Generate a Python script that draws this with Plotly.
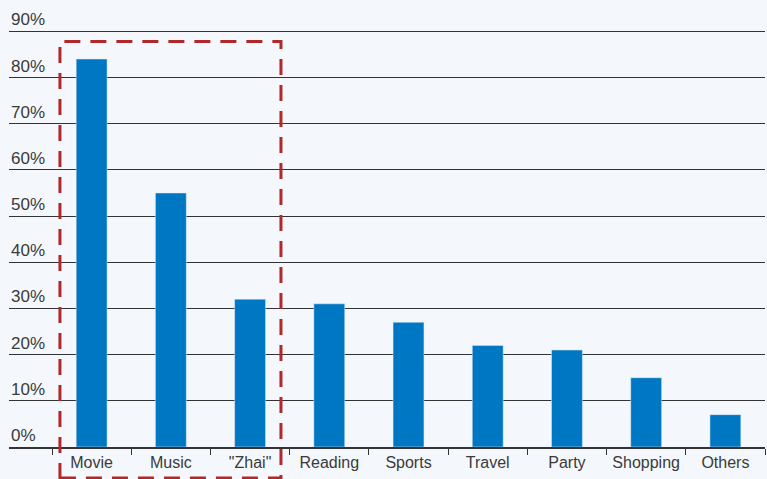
import plotly.graph_objects as go

categories = ["Movie", "Music", "\"Zhai\"", "Reading", "Sports", "Travel", "Party", "Shopping", "Others"]
values = [84, 55, 32, 31, 27, 22, 21, 15, 7]
y_ticks = [0, 10, 20, 30, 40, 50, 60, 70, 80, 90]
y_tick_labels = [f"{v}%" for v in y_ticks]

fig = go.Figure(go.Bar(x=categories, y=values, marker_color="#0077c2", width=0.39))

annotations = [
    dict(xref="paper", yref="y", x=0, y=v, text=t, showarrow=False,
         xanchor="left", yanchor="bottom", yshift=0,
         font=dict(size=17, color="#3a3a3a"))
    for v, t in zip(y_ticks, y_tick_labels)
]

fig.update_layout(
    width=767, height=479,
    margin=dict(l=9, r=2, t=29, b=32),
    paper_bgcolor="#f4f8fc", plot_bgcolor="#f4f8fc",
    showlegend=False,
    font=dict(family="Liberation Sans, Arial, sans-serif", size=16, color="#3a3a3a"),
    xaxis=dict(
        range=[-1.043, 8.5], showgrid=False, showline=True, linecolor="#333", linewidth=2,
        ticks="outside", tickson="boundaries", ticklen=6, tickcolor="#333", tickwidth=1,
        tickfont=dict(size=16, color="#3a3a3a"),
    ),
    yaxis=dict(
        range=[0, 90.5], tickvals=y_ticks, showticklabels=False,
        showgrid=True, gridcolor="#333", gridwidth=1,
        zeroline=False, showline=False,
    ),
    annotations=annotations,
    shapes=[dict(
        type="rect", xref="x", yref="paper", x0=-0.4, x1=2.39, y0=-0.074, y1=0.97,
        line=dict(color="#b0282a", width=3, dash="16px,10px"),
    )],
)

fig.write_html("out.html", config={"displayModeBar": False},
               post_script="document.body.style.margin='0';")
